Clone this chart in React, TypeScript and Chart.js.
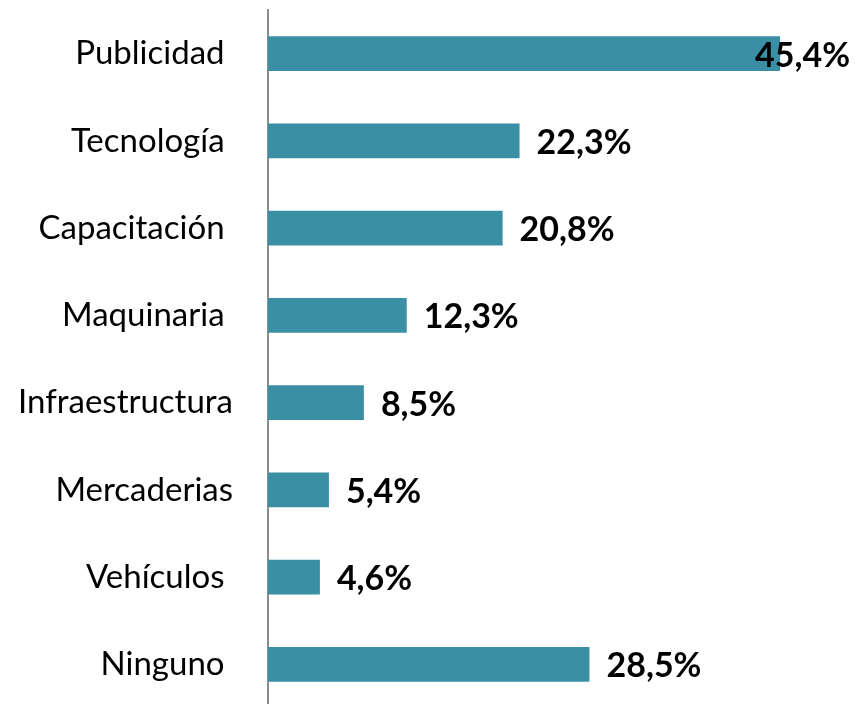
import React, { useEffect, useRef } from "react";
import { Chart, registerables } from "chart.js";

Chart.register(...registerables);

const categories = [
  "Publicidad ",
  "Tecnología ",
  "Capacitación ",
  "Maquinaria ",
  "Infraestructura",
  "Mercaderias",
  "Vehículos ",
  "Ninguno ",
];
const values = [45.4, 22.3, 20.8, 12.3, 8.5, 5.4, 4.6, 28.5];

const BAR_COLOR = "#3a8fa4";
const FONT = "Lato, 'Open Sans', sans-serif";

const valueLabels = {
  id: "valueLabels",
  afterDatasetsDraw(chart: any) {
    const ctx = chart.ctx;
    const meta = chart.getDatasetMeta(0);
    ctx.save();
    ctx.font = `bold 34px ${FONT}`;
    ctx.fillStyle = "#000";
    ctx.textBaseline = "middle";
    ctx.textAlign = "left";
    meta.data.forEach((bar: any, i: number) => {
      const txt = values[i].toFixed(1).replace(".", ",") + "%";
      const w = ctx.measureText(txt).width;
      let x = bar.x + 17;
      const maxRight = chart.width - 8;
      if (x + w > maxRight) x = maxRight - w;
      ctx.fillText(txt, x, bar.y + 2);
    });
    ctx.restore();
  },
};

export default function App() {
  const ref = useRef<HTMLCanvasElement>(null);
  useEffect(() => {
    if (!ref.current) return;
    const chart = new Chart(ref.current, {
      type: "bar",
      data: {
        labels: categories,
        datasets: [
          {
            data: values,
            backgroundColor: BAR_COLOR,
            categoryPercentage: 1,
            barPercentage: 0.4,
          },
        ],
      },
      options: {
        indexAxis: "y",
        animation: false,
        responsive: false,
        maintainAspectRatio: false,
        layout: { padding: { top: 10, right: 26, bottom: 0, left: 0 } },
        plugins: {
          legend: { display: false },
          tooltip: { enabled: false },
        },
        scales: {
          x: { display: false, min: 0, max: 50 },
          y: {
            afterFit(scale: any) {
              scale.width = 268;
              scale.paddingTop = 0;
              scale.paddingBottom = 0;
            },
            grid: { display: false, drawTicks: false },
            border: { display: true, color: "#8c8c8c", width: 2 },
            ticks: {
              padding: 35,
              color: "#000",
              font: { family: FONT, size: 33 },
            },
          },
        },
      },
      plugins: [valueLabels],
    });
    return () => chart.destroy();
  }, []);
  return (
    <div
      style={{
        position: "absolute",
        left: 0,
        top: 0,
        width: 858,
        height: 704,
        overflow: "hidden",
        background: "#fff",
      }}
    >
      <canvas ref={ref} width={858} height={708} style={{ display: "block" }} />
    </div>
  );
}
